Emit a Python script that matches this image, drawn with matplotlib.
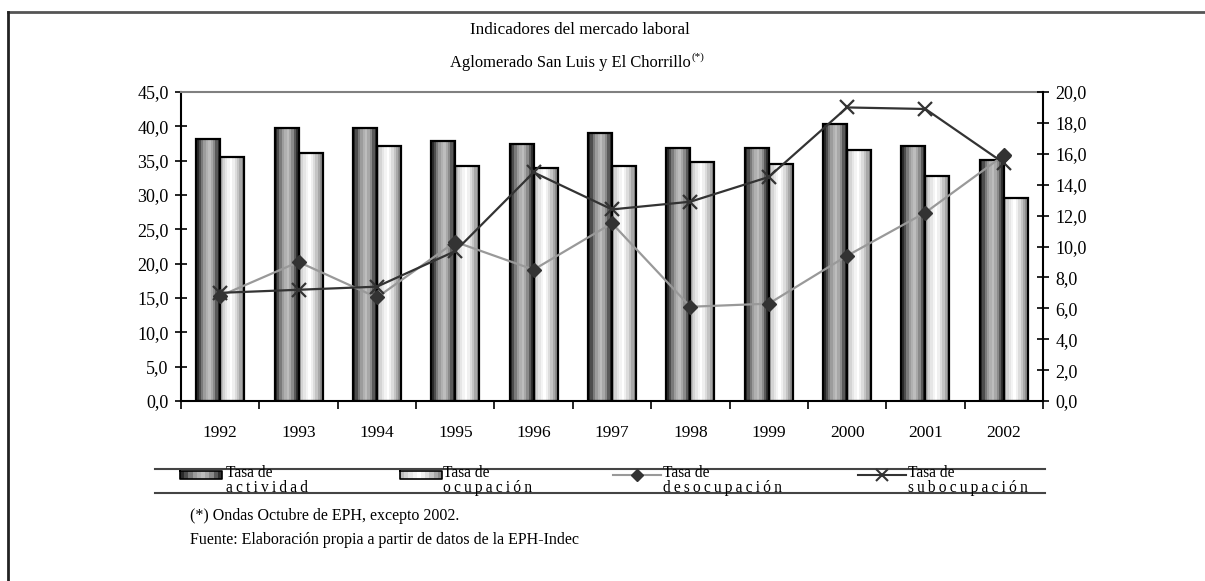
import matplotlib.pyplot as plt
import numpy as np
from matplotlib.ticker import FuncFormatter, MultipleLocator, FixedLocator
from matplotlib.colors import to_rgb

plt.rcParams['font.family'] = ['Liberation Serif', 'DejaVu Serif']

years = ['1992', '1993', '1994', '1995', '1996', '1997', '1998', '1999', '2000', '2001', '2002']
actividad = [38.1, 39.8, 39.8, 37.9, 37.4, 39.0, 36.9, 36.9, 40.3, 37.2, 35.1]
ocupacion = [35.5, 36.1, 37.1, 34.2, 33.9, 34.2, 34.8, 34.5, 36.6, 32.7, 29.6]
desocupacion = [6.8, 9.0, 6.7, 10.3, 8.5, 11.5, 6.1, 6.3, 9.4, 12.2, 15.9]
subocupacion = [7.0, 7.2, 7.4, 9.7, 14.8, 12.4, 12.9, 14.5, 19.0, 18.9, 15.4]

labels = [['Tasa de', 'actividad'], ['Tasa de', 'ocupación'],
          ['Tasa de', 'desocupación'], ['Tasa de', 'subocupación']]

# stripe shading of the bars (dark cylinder / light cylinder)
act_colors = ['#2a2a2a', '#4d4d4d', '#7a7a7a', '#9c9c9c', '#b0b0b0', '#bdbdbd', '#a8a8a8', '#8a8a8a', '#5a5a5a', '#303030']
occ_colors = ['#bdbdbd', '#d4d4d4', '#e6e6e6', '#f4f4f4', '#ffffff', '#f0f0f0', '#dcdcdc', '#c4c4c4', '#a8a8a8', '#8c8c8c']

W, H = 1205, 581
fig = plt.figure(figsize=(W / 100, H / 100), dpi=100)
ax = fig.add_axes([181 / W, 1 - 401 / H, (1043 - 181) / W, (401 - 92) / H])
ax2 = ax.twinx()

x = np.arange(len(years))
bw = 0.306


def gradient_bars(axis, xs, heights, width, colors):
    n = len(colors)
    sw = width / n
    for i, c in enumerate(colors):
        axis.bar(xs - width / 2 + sw * (i + 0.5), heights, sw, color=c, linewidth=0, zorder=2)
    axis.bar(xs, heights, width, fill=False, edgecolor='black', linewidth=1.6, zorder=3)


gradient_bars(ax, x - bw / 2, actividad, bw, act_colors)
gradient_bars(ax, x + bw / 2, ocupacion, bw, occ_colors)

ax2.plot(x, desocupacion, color='#999999', lw=1.6, marker='D', ms=7.5, mfc='#333333', mec='#333333', zorder=4)
ax2.plot(x, subocupacion, color='#333333', lw=1.6, marker='x', ms=10, mew=1.6, zorder=5)

ax.set_xlim(-0.5, len(years) - 0.5)
ax.set_ylim(0, 45)
ax2.set_ylim(0, 20)

comma = FuncFormatter(lambda v, p: f'{v:.1f}'.replace('.', ','))
ax.yaxis.set_major_locator(MultipleLocator(5))
ax.yaxis.set_major_formatter(comma)
ax2.yaxis.set_major_locator(MultipleLocator(2))
ax2.yaxis.set_major_formatter(comma)

ax.xaxis.set_major_locator(FixedLocator(np.arange(-0.5, len(years), 1.0)))
ax.xaxis.set_major_formatter(FuncFormatter(lambda v, p: ''))
ax.set_xticks(x, minor=True)
ax.set_xticklabels(years, minor=True)
ax.tick_params(axis='x', which='major', direction='out', length=6, width=1.2)
ax.tick_params(axis='x', which='minor', length=0, pad=17, labelsize=12.5)
ax.tick_params(axis='y', direction='inout', length=8, width=1.2, labelsize=13, pad=5)
ax2.tick_params(axis='y', direction='inout', length=8, width=1.2, labelsize=13, pad=5)

for a in (ax, ax2):
    for s in a.spines.values():
        s.set_visible(False)
ax.spines['left'].set_visible(True)
ax.spines['bottom'].set_visible(True)
ax.spines['top'].set_visible(True)
ax.spines['top'].set_color('#808080')
ax2.spines['right'].set_visible(True)
for s in (ax.spines['left'], ax.spines['bottom'], ax.spines['top'], ax2.spines['right']):
    s.set_linewidth(1.5)

# page furniture drawn in pixel coordinates
lax = fig.add_axes([0, 0, 1, 1], zorder=-1)
lax.axis('off')

lax.plot([8, W], [12, 12], color='#555555', lw=2)
lax.plot([8, 8], [12, H], color='#222222', lw=2)

fig.text(580 / W, 1 - 30 / H, 'Indicadores del mercado laboral', ha='center', va='center', fontsize=12.3)
sub = fig.text(570 / W, 1 - 63 / H, 'Aglomerado San Luis y El Chorrillo', ha='center', va='center', fontsize=11.9)

# legend
lax.plot([155, 1045], [469, 469], color='#444444', lw=1.5)
lax.plot([155, 1045], [493, 493], color='#444444', lw=1.5)


def grad_img(colors):
    return np.array([[to_rgb(c) for c in colors]])


for x0, cols in ((180, act_colors), (400, occ_colors)):
    lax.imshow(grad_img(cols), extent=(x0, x0 + 42, 479, 471), aspect='auto', interpolation='nearest')
    lax.plot([x0, x0 + 42, x0 + 42, x0, x0], [471, 471, 479, 479, 471], color='black', lw=1.2)

lax.plot([613, 661], [475, 475], color='#999999', lw=1.5)
lax.plot([637], [475], marker='D', ms=6, color='#333333', ls='none')
lax.plot([858, 906], [475, 475], color='#333333', lw=1.5)
lax.plot([882], [475], marker='x', ms=9, mew=1.5, color='#333333', ls='none')

for xt, lab in zip((226, 443, 663, 908), labels):
    lax.text(xt, 480.5, lab[0] + '\n' + '\u2009'.join(lab[1]), ha='left', va='center',
             fontsize=11.2, linespacing=0.9)

lax.text(190, 516, '(*) Ondas Octubre de EPH, excepto 2002.', ha='left', va='center', fontsize=11.5)
lax.text(190, 540, 'Fuente: Elaboración propia a partir de datos de la EPH-Indec', ha='left', va='center', fontsize=11.5)

lax.set_xlim(0, W)
lax.set_ylim(H, 0)

fig.canvas.draw()
bb = sub.get_window_extent()
fig.text((bb.x1 + 1) / W, (bb.y1 - 2) / H, '(*)', ha='left', va='center', fontsize=8)

fig.savefig('out.png', dpi=100)
